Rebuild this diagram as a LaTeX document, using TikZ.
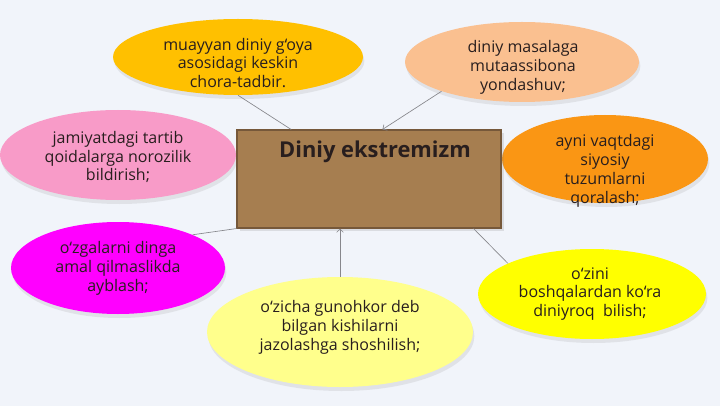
\documentclass[tikz,border=0pt]{standalone}
\usepackage{fontspec}
\setmainfont{Open Sans}
\usetikzlibrary{shapes.geometric,shadows,arrows.meta}
\definecolor{bgcol}{RGB}{241,244,250}
\definecolor{boxcol}{RGB}{166,126,80}
\definecolor{boxline}{RGB}{118,88,58}
\definecolor{textcol}{RGB}{40,30,30}
\definecolor{linecol}{RGB}{135,135,140}
\definecolor{goldcol}{RGB}{255,192,0}
\definecolor{peachcol}{RGB}{250,192,144}
\definecolor{pinkcol}{RGB}{248,155,200}
\definecolor{orangecol}{RGB}{250,150,20}
\definecolor{magentacol}{RGB}{255,0,255}
\definecolor{lyellowcol}{RGB}{255,255,140}
\definecolor{yellowcol}{RGB}{255,255,0}
\tikzset{
  bubble/.style={ellipse, draw=none, inner sep=0pt,
    drop shadow={shadow xshift=1pt, shadow yshift=-3pt, opacity=0.15}},
  txt/.style={align=center, text=textcol, font=\fontsize{12}{14.2}\selectfont},
  conn/.style={draw=linecol, line width=0.5pt},
  >={Straight Barb[length=2.5pt]}
}
\begin{document}
\begin{tikzpicture}[x=0.75pt,y=-0.75pt]
\fill[bgcol] (0,0) rectangle (720,406);
\useasboundingbox (0,0) rectangle (720,406);

\node[bubble, fill=goldcol, minimum width=187.5pt, minimum height=57pt] (goya) at (238,57) {};
\node[txt] (goyatxt) at (238,63) {muayyan diniy g‘oya\\asosidagi keskin\\chora-tadbir.};

\node[bubble, fill=peachcol, minimum width=175.5pt, minimum height=60pt] (masala) at (522,62) {};
\node[txt] (masalatxt) at (523,67) {diniy masalaga\\mutaassibona\\yondashuv;};

\node[bubble, fill=pinkcol, minimum width=177pt, minimum height=67.5pt] (tartib) at (118,155) {};
\node[txt] (tartibtxt) at (118,157) {jamiyatdagi tartib\\qoidalarga norozilik\\bildirish;};

\node[bubble, fill=orangecol, minimum width=154.5pt, minimum height=66pt] (siyosiy) at (605,159) {};
\node[txt] (siyosiytxt) at (605,171) {ayni vaqtdagi\\siyosiy\\tuzumlarni\\qoralash;};

\node[bubble, fill=magentacol, minimum width=160.5pt, minimum height=69pt] (ayblash) at (118,268) {};
\node[txt] (ayblashtxt) at (118,268) {o‘zgalarni dinga\\amal qilmaslikda\\ayblash;};

\node[bubble, fill=lyellowcol, minimum width=199.5pt, minimum height=82.5pt] (jazo) at (340,332) {};
\node[txt] (jazotxt) at (340,327) {o‘zicha gunohkor deb\\bilgan kishilarni\\jazolashga shoshilish;};

\node[bubble, fill=yellowcol, minimum width=171pt, minimum height=67.5pt] (diniyroq) at (592,294) {};
\node[txt] (diniyroqtxt) at (590,294) {o‘zini\\boshqalardan ko‘ra\\diniyroq\ \ bilish;};

\node[draw=boxline, fill=boxcol, line width=0.8pt, inner sep=0pt,
  minimum width=198pt, minimum height=73.5pt,
  drop shadow={shadow xshift=2pt, shadow yshift=-2pt, opacity=0.2}] (box) at (369,179) {};
\node[text=textcol, font=\bfseries\fontsize{16.4}{19}\selectfont] (title) at (375,152) {Diniy ekstremizm};

\draw[conn] (goya.south) -- ([xshift=41pt]box.north west);
\draw[conn,->] (masala.200) -- ([xshift=109.5pt]box.north west);
\draw[conn] (ayblash.24) -- (box.south west);
\draw[conn,->] (jazo.north) -- (jazo.north |- box.south);
\draw[conn] (diniyroq.160) -- ([xshift=-21pt]box.south east);
\end{tikzpicture}
\end{document}
